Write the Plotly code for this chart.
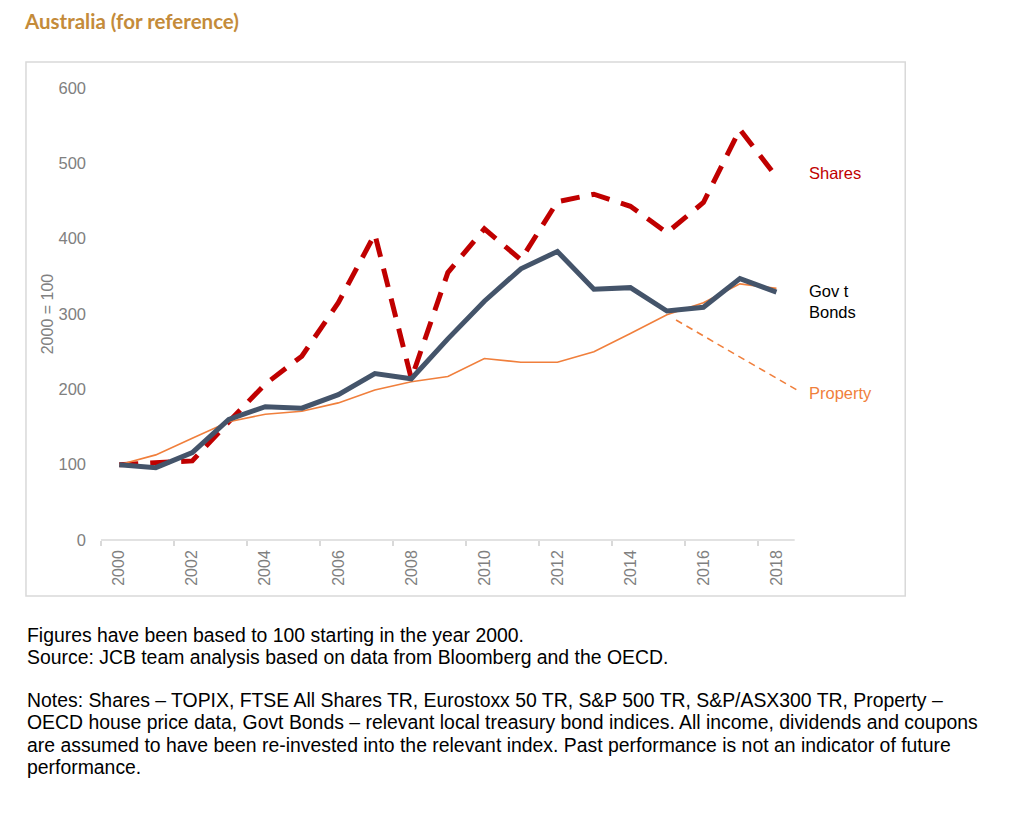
import plotly.graph_objects as go

# ---------------- data ----------------
years = list(range(2000, 2019))
shares = [100, 102, 105, 157, 207, 244, 315, 406, 214, 355, 413, 372, 449, 459, 443, 408, 448, 545, 482]
govt_bonds = [100, 96, 116, 160, 177, 175, 193, 221, 214, 267, 317, 360, 383, 333, 335, 304, 309, 347, 329]
property_idx = [100, 113, 135, 157, 167, 171, 182, 199, 210, 217, 241, 236, 236, 250, 274, 299, 315, 340, 334]
property_leader_x = [2015.25, 2018.6]
property_leader_y = [292, 198]
x_tick_years = years[::2]
y_ticks = [0, 100, 200, 300, 400, 500, 600]

footer_lines = [
    "Figures have been based to 100 starting in the year 2000.",
    "Source: JCB team analysis based on data from Bloomberg and the OECD.",
    "Notes: Shares \u2013 TOPIX, FTSE All Shares TR, Eurostoxx 50 TR, S&P 500 TR, S&P/ASX300 TR, Property \u2013",
    "OECD house price data, Govt Bonds \u2013 relevant local treasury bond indices. All income, dividends and coupons",
    "are assumed to have been re-invested into the relevant index. Past performance is not an indicator of future",
    "performance.",
]
footer_y = [635, 657, 700, 722, 745, 767]

# ---------------- layout helpers ----------------
W, H = 1024, 816
OFF = 8  # page offset of the figure inside the browser
# target plot area in screen pixels
P_LEFT, P_RIGHT, P_TOP, P_BOTTOM = 101, 801.8, 88, 540
L = P_LEFT - OFF
T = P_TOP - OFF
R = W - (P_RIGHT - OFF)
B = H - (P_BOTTOM - OFF)
PW = P_RIGHT - P_LEFT
PH = P_BOTTOM - P_TOP


def px_x(px):
    return (px - P_LEFT) / PW


def px_y(py):
    return (P_BOTTOM - py) / PH


GREY = "#808080"
AX = "#d9d9d9"
FONT = "Liberation Sans, Arial, sans-serif"

fig = go.Figure()
fig.add_trace(go.Scatter(x=years, y=shares, mode="lines", name="Shares",
                         line=dict(color="#C00000", width=5, dash="19px,12px"),
                         hoverinfo="skip"))
fig.add_trace(go.Scatter(x=years, y=property_idx, mode="lines", name="Property",
                         line=dict(color="#F07F3C", width=1.6), hoverinfo="skip"))
fig.add_trace(go.Scatter(x=property_leader_x, y=property_leader_y, mode="lines",
                         line=dict(color="#F07F3C", width=1.6, dash="7px,5px"),
                         hoverinfo="skip", showlegend=False))
fig.add_trace(go.Scatter(x=years, y=govt_bonds, mode="lines", name="Govt Bonds",
                         line=dict(color="#44546A", width=5), hoverinfo="skip"))

shapes = [
    # outer chart frame
    dict(type="rect", xref="paper", yref="paper",
         x0=px_x(26), x1=px_x(905), y0=px_y(596), y1=px_y(62),
         line=dict(color="#d9d9d9", width=1.5), fillcolor="rgba(0,0,0,0)", layer="below"),
    # category axis baseline
    dict(type="line", xref="x", yref="paper", x0=years[0] - 0.5, x1=years[-1] + 0.5,
         y0=0, y1=0, line=dict(color=AX, width=1.5)),
]

annotations = [
    dict(text="Shares", xref="paper", yref="y", x=px_x(807), y=487, xanchor="left",
         yanchor="middle", showarrow=False, font=dict(family=FONT, size=16.5, color="#C00000")),
    dict(text="Gov t<br>Bonds", xref="paper", yref="y", x=px_x(807), y=316, xanchor="left",
         yanchor="middle", align="left", showarrow=False,
         font=dict(family=FONT, size=16.5, color="#000000")),
    dict(text="Property", xref="paper", yref="y", x=px_x(807), y=195, xanchor="left",
         yanchor="middle", showarrow=False, font=dict(family=FONT, size=16.5, color="#F07F3C")),
]
for line, yy in zip(footer_lines, footer_y):
    annotations.append(dict(text=line, xref="paper", yref="paper", x=px_x(25), y=px_y(yy),
                            xanchor="left", yanchor="middle", align="left", showarrow=False,
                            font=dict(family=FONT, size=19.4, color="#000000")))

fig.update_layout(
    width=W, height=H,
    margin=dict(l=L, r=R, t=T, b=B),
    paper_bgcolor="white", plot_bgcolor="white",
    showlegend=False,
    title=dict(text="<b>Australia (for reference)</b>", x=(25 - OFF) / W, xanchor="left",
               y=1 - (22 - OFF) / H, yanchor="middle",
               font=dict(family="Lato, Open Sans, sans-serif", size=20.5, color="#C48B3A")),
    shapes=shapes,
    annotations=annotations,
    xaxis=dict(range=[years[0] - 0.5, 2018.7], showgrid=False, zeroline=False, showline=False,
               tickmode="array", tickvals=x_tick_years, ticktext=[str(y) for y in x_tick_years],
               tickangle=-90, ticks="", ticklabelstandoff=6,
               tickfont=dict(family=FONT, size=16, color=GREY),
               minor=dict(tickmode="array", tickvals=[y - 0.5 for y in years[::2]],
                          ticks="outside", ticklen=5, tickcolor=AX, tickwidth=1.5, showgrid=False)),
    yaxis=dict(range=[0, 600], showgrid=False, zeroline=False, showline=False,
               tickmode="array", tickvals=y_ticks, ticks="", ticklabelstandoff=14,
               tickfont=dict(family=FONT, size=16.5, color=GREY),
               title=dict(text="2000 = 100", standoff=0,
                          font=dict(family=FONT, size=16, color=GREY))),
)

fig.write_html("out.html")
